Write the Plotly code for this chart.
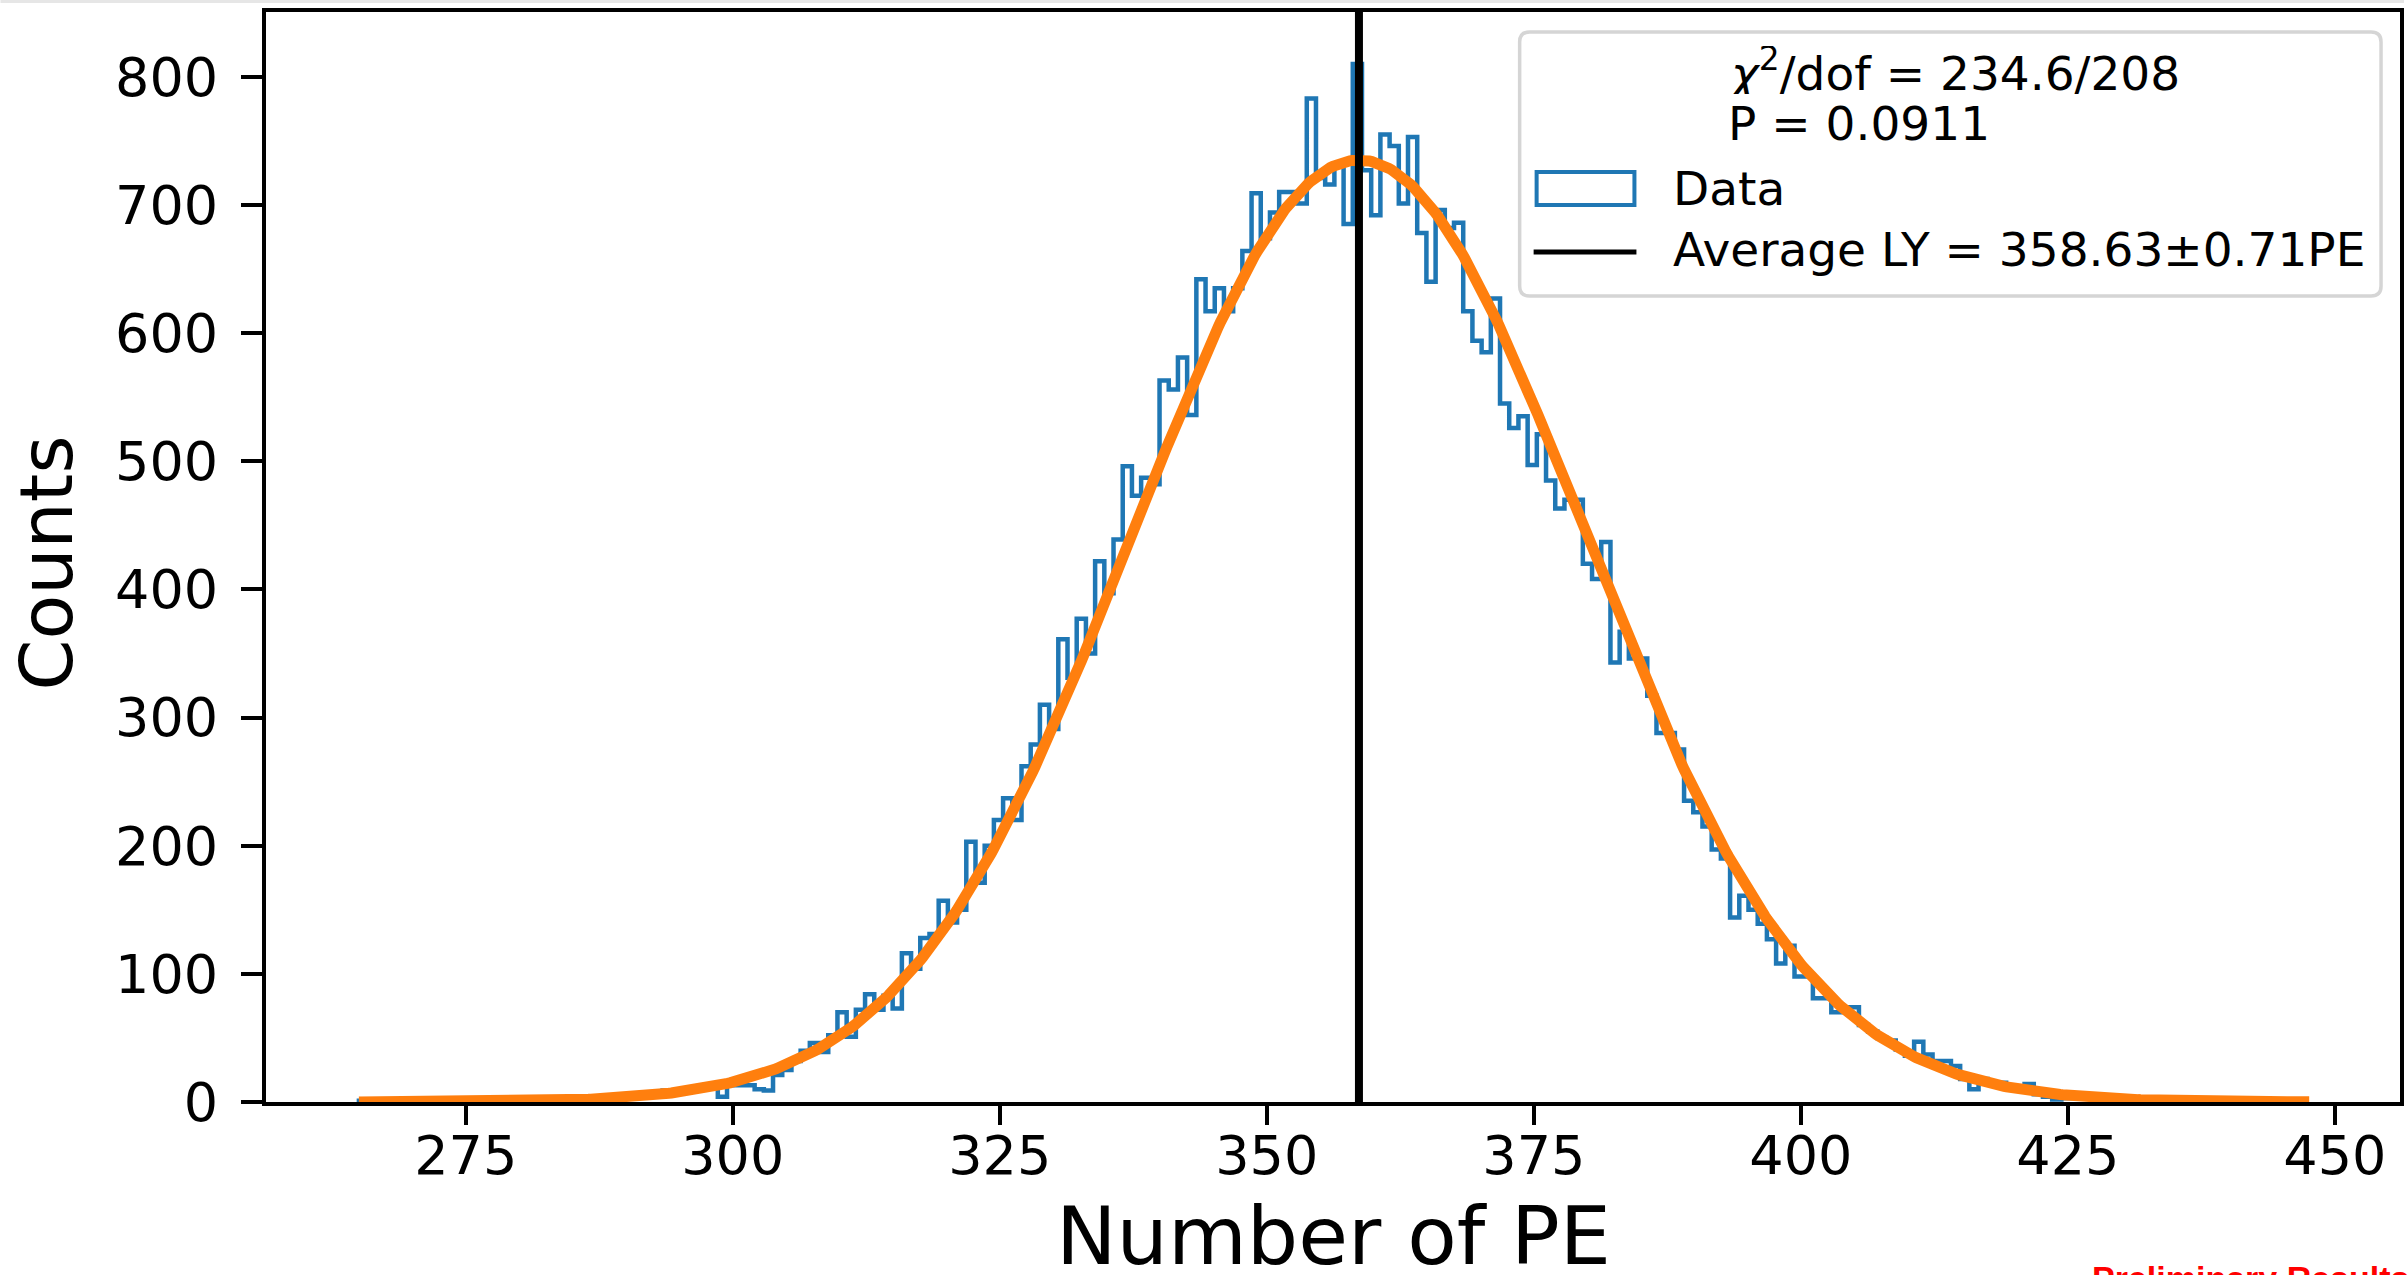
import numpy as np
import plotly.graph_objects as go

# ---------------- data ----------------
bin_start = 265.0          # left edge of first bin (PE)
bin_width = 0.8616         # PE per bin
counts = [
    1, 0, 0, 0, 0, 0, 0, 0, 0, 1,
    0, 0, 0, 1, 0, 0, 1, 0, 1, 1,
    1, 2, 1, 2, 3, 2, 3, 2, 4, 3,
    5, 4, 6, 9, 7, 8, 10, 11, 13, 4,
    13, 13, 13, 10, 9, 21, 25, 32, 40, 46,
    39, 52, 70, 51, 72, 84, 72, 83, 73, 116,
    104, 128, 131, 157, 140, 150, 203, 171, 200, 220,
    237, 220, 262, 279, 310, 291, 361, 331, 377, 350,
    422, 397, 439, 496, 473, 487, 482, 563, 556, 581,
    536, 642, 617, 635, 617, 635, 664, 709, 674, 694,
    710, 710, 701, 783, 721, 716, 730, 685, 810, 727,
    692, 755, 746, 701, 753, 678, 640, 696, 682, 686,
    617, 594, 585, 627, 545, 526, 535, 497, 521, 485,
    463, 470, 470, 420, 408, 437, 343, 367, 346, 346,
    317, 288, 288, 275, 235, 226, 215, 197, 190, 144,
    161, 150, 139, 127, 108, 122, 98, 98, 81, 81,
    70, 74, 74, 60, 55, 50, 48, 41, 36, 47,
    37, 32, 32, 28, 18, 10, 18, 15, 15, 12,
    12, 14, 6, 4, 2, 3, 5, 3, 4, 2,
    3, 1, 2, 1, 2, 1, 0, 1, 1, 0,
    1, 0, 0, 1, 0, 0, 0, 0, 0, 0, 1,
]
# Gaussian fit parameters (as drawn)
fit_amplitude = 735.0
fit_mean = 358.63
fit_sigma = 21.1
average_ly = 358.63
average_ly_err = 0.71
chi2_value = 234.6
dof_value = 208
p_value = 0.0911
x_ticks = [275, 300, 325, 350, 375, 400, 425, 450]
y_ticks = [0, 100, 200, 300, 400, 500, 600, 700, 800]

# ---------------- geometry ----------------
W, H = 2408, 1275
L, R, T, B = 266, 2404, 12, 1102
x_range = [256.3, 456.1]
y_range = [0, 850.5]


def px(x):
    return (x - L) / (R - L)


def py(y):
    return (B - y) / (B - T)


FONT = "DejaVu Sans"
BLUE = "#1f77b4"
ORANGE = "#ff7f0e"

n = len(counts)
edges = bin_start + bin_width * np.arange(n + 1)
step_x = np.concatenate([[edges[0]], edges[:-1], [edges[-1], edges[-1]]])
step_y = np.concatenate([[0], counts, [counts[-1], 0]])

fit_x = np.linspace(edges[0], edges[-1] + 0.8, 800)
fit_y = fit_amplitude * np.exp(-0.5 * ((fit_x - fit_mean) / fit_sigma) ** 2)

fig = go.Figure()
fig.add_trace(go.Scatter(x=step_x, y=step_y, mode="lines", line_shape="hv",
                         line=dict(color=BLUE, width=4.5), showlegend=False,
                         hoverinfo="skip"))
fig.add_trace(go.Scatter(x=fit_x, y=fit_y, mode="lines",
                         line=dict(color=ORANGE, width=11), showlegend=False,
                         hoverinfo="skip"))
fig.add_trace(go.Scatter(x=[average_ly, average_ly], y=y_range, mode="lines",
                         line=dict(color="black", width=8), showlegend=False,
                         hoverinfo="skip"))

# ---------------- legend (drawn manually) ----------------
def rounded_rect(x0, y0, x1, y1, r):
    pts = [
        ("M", x0 + r, y0), ("L", x1 - r, y0), ("Q", x1, y0, x1, y0 + r),
        ("L", x1, y1 - r), ("Q", x1, y1, x1 - r, y1),
        ("L", x0 + r, y1), ("Q", x0, y1, x0, y1 - r),
        ("L", x0, y0 + r), ("Q", x0, y0, x0 + r, y0),
    ]
    s = ""
    for p in pts:
        cmd = p[0]
        coords = p[1:]
        conv = []
        for i in range(0, len(coords), 2):
            conv.append(f"{px(coords[i]):.6f},{py(coords[i+1]):.6f}")
        s += cmd + " " + " ".join(conv) + " "
    return s + "Z"


shapes = [
    dict(type="path", xref="paper", yref="paper",
         path=rounded_rect(1522, 32, 2385, 296, 10),
         fillcolor="rgba(255,255,255,0.85)", line=dict(color="#d5d5d5", width=3.5),
         layer="above"),
    dict(type="rect", xref="paper", yref="paper",
         x0=px(1539), x1=px(1637), y0=py(205), y1=py(172),
         fillcolor="white", line=dict(color=BLUE, width=4), layer="above"),
    dict(type="line", xref="paper", yref="paper",
         x0=px(1536), x1=px(1639), y0=py(252), y1=py(252),
         line=dict(color="black", width=5), layer="above"),
]

LEG = 47
annotations = [
    dict(xref="paper", yref="paper", x=px(1729), y=py(70), xanchor="left",
         yanchor="middle", showarrow=False, height=48,
         text=f"<i>χ</i><sup>2</sup>/dof = {chi2_value}/{dof_value}",
         font=dict(family=FONT, size=LEG, color="black")),
    dict(xref="paper", yref="paper", x=px(1729), y=py(123), xanchor="left",
         yanchor="middle", showarrow=False, height=48, text=f"P = {p_value}",
         font=dict(family=FONT, size=LEG, color="black")),
    dict(xref="paper", yref="paper", x=px(1674), y=py(188), xanchor="left",
         yanchor="middle", showarrow=False, text="Data",
         font=dict(family=FONT, size=LEG, color="black")),
    dict(xref="paper", yref="paper", x=px(1674), y=py(250), xanchor="left",
         yanchor="middle", showarrow=False,
         text=f"Average LY = {average_ly:.2f}±{average_ly_err:.2f}PE",
         font=dict(family=FONT, size=LEG, color="black")),
    # axis titles
    dict(xref="paper", yref="paper", x=px(1335), y=py(1236), xanchor="center",
         yanchor="middle", showarrow=False, text="Number of PE", height=78,
         font=dict(family=FONT, size=81, color="black")),
    dict(xref="paper", yref="paper", x=px(46), y=py(563), xanchor="center",
         yanchor="middle", showarrow=False, text="Counts", textangle=-90,
         font=dict(family=FONT, size=73, color="black")),
    # note cut off at the bottom edge
    dict(xref="paper", yref="paper", x=px(2093), y=py(1257), xanchor="left",
         yanchor="top", showarrow=False, text="<b>Preliminary Results</b>",
         font=dict(family="Liberation Sans", size=34, color="#ff0000")),
]

# thin gray strip at top of the screenshot
shapes.append(dict(type="rect", xref="paper", yref="paper",
                   x0=px(0), x1=px(W), y0=py(0), y1=py(3),
                   fillcolor="#e6e6e6", line=dict(width=0), layer="below"))

fig.update_layout(
    width=W, height=H,
    margin=dict(l=L, r=W - R, t=T, b=H - B, pad=0),
    paper_bgcolor="white", plot_bgcolor="white",
    showlegend=False,
    shapes=shapes,
    annotations=annotations,
    font=dict(family=FONT, color="black"),
)
fig.update_xaxes(range=x_range, tickvals=x_ticks, ticktext=[str(t) for t in x_ticks],
                 showgrid=False, zeroline=False, showline=True, linecolor="black",
                 linewidth=4, mirror=True, ticks="outside", ticklen=19, tickwidth=4,
                 tickcolor="black", tickfont=dict(family=FONT, size=54, color="black"),
                 ticklabelstandoff=-16)
fig.update_yaxes(range=y_range, tickvals=y_ticks, ticktext=[str(t) for t in y_ticks],
                 showgrid=False, zeroline=False, showline=True, linecolor="black",
                 linewidth=4, mirror=True, ticks="outside", ticklen=21, tickwidth=4,
                 tickcolor="black", tickfont=dict(family=FONT, size=54, color="black"),
                 ticklabelstandoff=12)

fig.write_html("out.html")
